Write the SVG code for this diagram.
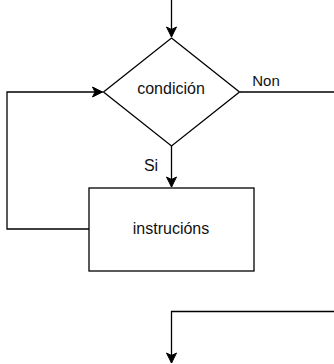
<svg xmlns="http://www.w3.org/2000/svg" width="334" height="364" viewBox="0 0 334 364">
<style>
.s{fill:none;stroke:#000;stroke-width:1.3}
.n{fill:#fff;stroke:#000;stroke-width:1.3}
.t{font-family:"Liberation Sans",Arial,sans-serif;font-size:16px;fill:#111}
.l{font-family:"Liberation Sans",Arial,sans-serif;font-size:15px;fill:#111}
</style>
<defs>
<marker id="a" markerWidth="12" markerHeight="12" refX="11" refY="6" orient="auto" markerUnits="userSpaceOnUse">
<path d="M1,1 L11,6 L1,11 L3.5,6 Z" fill="#000" stroke="#000" stroke-width="1"/>
</marker>
</defs>
<g id="connectors">
<path class="s" d="M171.5,0 V37" marker-end="url(#a)"/>
<path class="s" d="M171.5,146 V187" marker-end="url(#a)"/>
<path class="s" d="M89,229 H7 V92 H102.5" marker-end="url(#a)"/>
<path class="s" d="M240,92 H334"/>
<path class="s" d="M334,311.5 H171.5 V363" marker-end="url(#a)"/>
<text class="l" x="151" y="170.5" text-anchor="middle" style="font-size:16px">Si</text>
<text class="l" x="266" y="86" text-anchor="middle">Non</text>
</g>
<g id="condicion">
<path class="n" d="M171.5,38 L239.5,92 L171.5,146 L103.5,92 Z"/>
<text class="t" x="171" y="93.5" text-anchor="middle">condición</text>
</g>
<g id="instrucions">
<rect class="n" x="89" y="188" width="165" height="83"/>
<text class="t" x="171" y="233.5" text-anchor="middle">instrucións</text>
</g>
</svg>
